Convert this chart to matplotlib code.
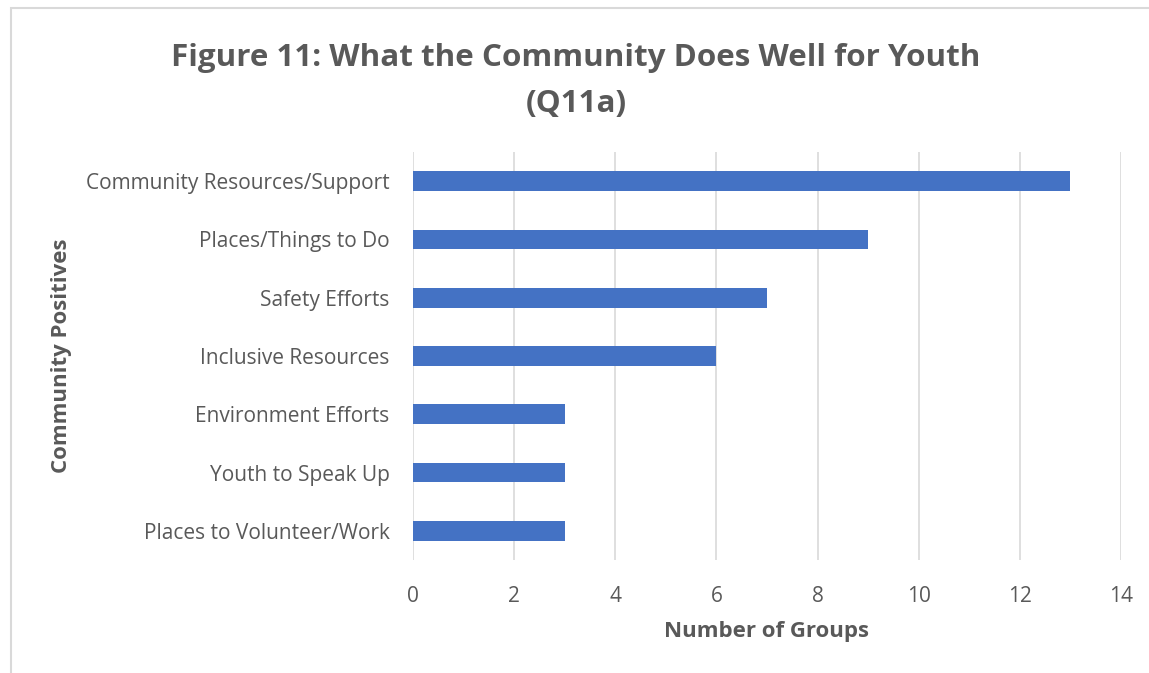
import matplotlib
matplotlib.use("Agg")
import matplotlib.pyplot as plt
from matplotlib.patches import Rectangle

categories = ["Community Resources/Support", "Places/Things to Do", "Safety Efforts",
              "Inclusive Resources", "Environment Efforts", "Youth to Speak Up",
              "Places to Volunteer/Work"]
values = [13, 9, 7, 6, 3, 3, 3]
xticks = [0, 2, 4, 6, 8, 10, 12, 14]

plt.rcParams['font.family'] = ['Open Sans', 'DejaVu Sans']
TXT = '#595959'

fig = plt.figure(figsize=(11.49, 6.73), dpi=100)
fig.patches.append(Rectangle((11/1149, -0.1), 1.2, (673-8)/673 + 0.1, transform=fig.transFigure,
                             fill=False, edgecolor='#d9d9d9', linewidth=1.5))
ax = fig.add_axes([413/1149, 113/673, 708/1149, 408/673])
y = list(range(len(categories)))
ax.barh(y, values, height=0.34, color='#4472c4', zorder=3)
ax.set_ylim(len(categories) - 0.5, -0.5)
ax.set_xlim(0, 14)
ax.set_xticks(xticks)
ax.set_xticklabels([str(t) for t in xticks])
ax.set_yticks(y)
ax.set_yticklabels(categories)
ax.grid(axis='x', color='#d9d9d9', linewidth=1.2, zorder=0)
for s in ax.spines.values():
    s.set_visible(False)
ax.tick_params(axis='both', length=0, labelsize=15, labelcolor=TXT)
ax.tick_params(axis='x', pad=19)
ax.tick_params(axis='y', pad=17)
fig.text(767/1149, 1 - 631/673, "Number of Groups", ha='center', va='center',
         fontsize=16, fontweight='bold', color=TXT)
fig.text(62/1149, 1 - 356/673, "Community Positives", ha='center', va='center', rotation=90,
         fontsize=16, fontweight='bold', color=TXT)
fig.text(576/1149, 1 - 81/673, "Figure 11: What the Community Does Well for Youth\n(Q11a)",
         ha='center', va='center', fontsize=22.6, fontweight='bold', color=TXT, linespacing=1.68)
fig.savefig("out.png", dpi=100)
